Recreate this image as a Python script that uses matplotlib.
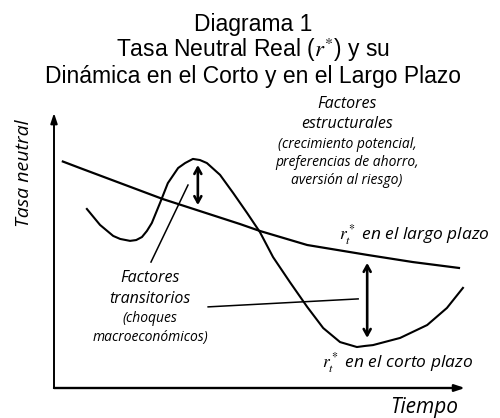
import matplotlib
matplotlib.use('Agg')
import matplotlib.pyplot as plt

plt.rcParams['mathtext.fontset'] = 'stix'

# short-run neutral rate (arbitrary units 0-100)
time_short = [8.0, 11.2, 14.4, 16.1, 18.5, 20.0, 21.4, 22.6, 23.8, 25.8,
              27.7, 30.2, 31.9, 33.8, 35.5, 37.2, 40.4, 43.6, 47.0, 50.1,
              53.3, 57.4, 61.6, 65.5, 69.6, 73.7, 75.7, 77.6, 84.2, 90.8,
              95.6, 99.5]
rate_short = [65.1, 59.3, 55.3, 54.2, 53.5, 53.8, 54.9, 57.1, 60.0, 67.3,
              74.5, 80.0, 81.8, 83.3, 82.9, 81.8, 77.5, 70.9, 63.6, 56.7,
              47.6, 38.5, 29.5, 21.8, 16.7, 14.9, 15.3, 15.6, 18.2, 22.9,
              29.1, 36.4]

# long-run neutral rate
time_long = [1.9, 6.3, 26.5, 45.3, 50.1, 61.6, 76.2, 87.3, 98.8]
rate_long = [82.5, 80.0, 68.7, 59.6, 57.1, 52.0, 48.4, 45.8, 43.6]

title_lines = ['Diagrama 1',
               'Tasa Neutral Real ($r^{*}$) y su',
               'Dinámica en el Corto y en el Largo Plazo']
struct_lines = ['Factores', 'estructurales', '(crecimiento potencial,',
                'preferencias de ahorro,', 'aversión al riesgo)']
trans_lines = ['Factores', 'transitorios', '(choques', 'macroeconómicos)']

W, H = 500, 418
fig = plt.figure(figsize=(5, 4.18), dpi=100)
ax = fig.add_axes([54 / W, 1 - 388 / H, 411 / W, 275 / H])
ax.set_xlim(0, 100)
ax.set_ylim(0, 100)
ax.axis('off')


def fx(px):
    return px / W


def fy(py):
    return 1 - py / H


# axes with arrows
ax.annotate('', xy=(1.0, 0), xytext=(0, 0), xycoords='axes fraction',
            arrowprops=dict(arrowstyle='-|>,head_width=0.2,head_length=0.6',
                            lw=1.7, color='black', shrinkA=0, shrinkB=0))
ax.annotate('', xy=(0, 1.0), xytext=(0, 0), xycoords='axes fraction',
            arrowprops=dict(arrowstyle='-|>,head_width=0.2,head_length=0.6',
                            lw=1.4, color='black', shrinkA=0, shrinkB=0))

ax.plot(time_long, rate_long, color='black', lw=1.6, solid_capstyle='butt')
ax.plot(time_short, rate_short, color='black', lw=1.5,
        solid_joinstyle='round')

# double arrows
dbl = dict(arrowstyle='<->,head_width=0.25,head_length=0.45', lw=1.9,
           color='black', shrinkA=0, shrinkB=0)
ax.annotate('', xy=(35.0, 81.1), xytext=(35.0, 66.5), arrowprops=dbl)
ax.annotate('', xy=(76.2, 45.5), xytext=(76.2, 18.2), arrowprops=dbl)

# leader lines
ax.plot([23.6, 32.6], [45.8, 73.8], color='black', lw=1.1)
ax.plot([37.5, 74.0], [29.5, 32.4], color='black', lw=1.1)

# title
for txt, py in zip(title_lines, [24, 50, 76]):
    fig.text(fx(253), fy(py), txt, ha='center', va='center',
             family='Liberation Sans', fontsize=16.5)

it = dict(family='Open Sans', style='italic', ha='center', va='center')
for i, (txt, py) in enumerate(zip(struct_lines, [104, 124, 144, 163, 180])):
    fig.text(fx(347), fy(py), txt, fontsize=11.5 if i < 2 else 10, **it)
for i, (txt, py) in enumerate(zip(trans_lines, [278, 299, 318, 337])):
    fig.text(fx(150), fy(py), txt, fontsize=11.5 if i < 2 else 10, **it)

fig.text(fx(339), fy(235), r'$r_t^*$ en el largo plazo', fontsize=12.5,
         family='Open Sans', style='italic', ha='left', va='center')
fig.text(fx(322), fy(363), r'$r_t^*$ en el corto plazo', fontsize=12.5,
         family='Open Sans', style='italic', ha='left', va='center')
fig.text(fx(424), fy(408), 'Tiempo', fontsize=15,
         family='Open Sans', style='italic', ha='center', va='center')
fig.text(fx(24), fy(173), 'Tasa neutral', fontsize=14, rotation=90,
         family='Open Sans', style='italic', ha='center', va='center')

fig.savefig('out.png', dpi=100)
